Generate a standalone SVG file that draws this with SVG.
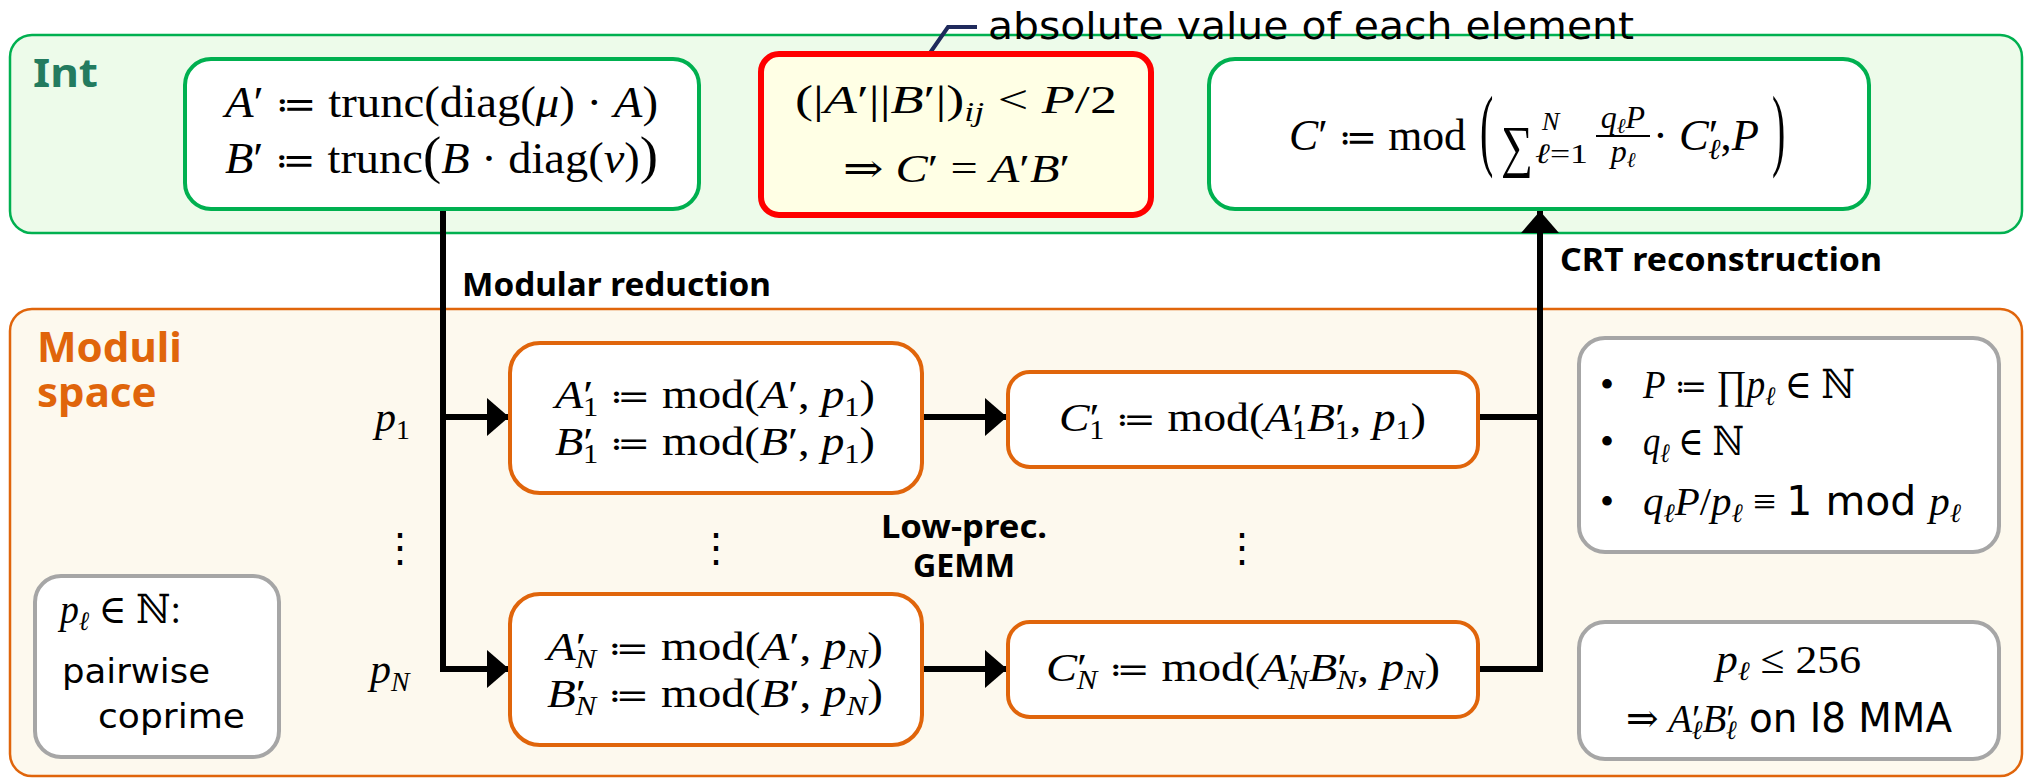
<svg xmlns="http://www.w3.org/2000/svg" width="2028" height="778" viewBox="0 0 2028 778">
<defs>
<style>
.m{font-family:"Liberation Serif","DejaVu Serif",serif;fill:#000}
.i{font-style:italic}
.eq{font-size:0.85em}
.sub{font-size:0.66em}
.sans{font-family:"DejaVu Sans","Liberation Sans",sans-serif;fill:#000}
.bold{font-family:"Noto Sans","DejaVu Sans",sans-serif;font-weight:bold;fill:#000}
.panelInt{fill:#edfbea;stroke:#00b050;stroke-width:2.5}
.panelMod{fill:#fdf9ee;stroke:#e0650b;stroke-width:2.5}
.gbox{fill:#fff;stroke:#00b050;stroke-width:4}
.obox{fill:#fff;stroke:#e0650b;stroke-width:4}
.graybox{fill:#fff;stroke:#a6a6a6;stroke-width:4}
.conn{fill:none;stroke:#000;stroke-width:6;stroke-linejoin:miter}
</style>
<marker id="ah" markerUnits="userSpaceOnUse" markerWidth="24" markerHeight="40" refX="22" refY="20" orient="auto">
<path d="M0,1 L22,20 L0,39 z" fill="#000"/>
</marker>
</defs>

<g id="int-panel">
<rect class="panelInt" x="10" y="35" width="2012" height="198" rx="22"/>
<text class="bold" x="33" y="87" font-size="40" textLength="65" lengthAdjust="spacingAndGlyphs" style="fill:#237b5f">Int</text>
</g>

<g id="moduli-panel">
<rect class="panelMod" x="10" y="309" width="2012" height="467" rx="22"/>
<text class="bold" x="37" y="362" font-size="42" style="fill:#e0650b">Moduli</text>
<text class="bold" x="37" y="407" font-size="42" style="fill:#e0650b">space</text>
</g>

<g id="connectors">
<path class="conn" d="M443 209 V669 H509" marker-end="url(#ah)"/>
<path class="conn" d="M443 417 H509" marker-end="url(#ah)"/>
<path class="conn" d="M922 417 H1007" marker-end="url(#ah)"/>
<path class="conn" d="M922 669 H1007" marker-end="url(#ah)"/>
<path class="conn" d="M1478 417 H1540"/>
<path class="conn" d="M1478 669 H1540 V211" marker-end="url(#ah)"/>
<path d="M916 73 L948 27 L977 27" fill="none" stroke="#1f2a5c" stroke-width="4"/>
</g>

<g id="label-abs">
<text class="sans" x="988" y="39" font-size="38" textLength="646" lengthAdjust="spacingAndGlyphs">absolute value of each element</text>
</g>

<g id="node-scale">
<rect class="gbox" x="185" y="59" width="514" height="150" rx="26"/>
<text class="m" x="225" y="117" font-size="44" textLength="433" lengthAdjust="spacingAndGlyphs"><tspan class="i">A</tspan>′ <tspan class="eq">≔</tspan> trunc(diag(<tspan class="i">μ</tspan>) · <tspan class="i">A</tspan>)</text>
<text class="m" x="225" y="173" font-size="44" textLength="433" lengthAdjust="spacingAndGlyphs"><tspan class="i">B</tspan>′ <tspan class="eq">≔</tspan> trunc<tspan font-size="52">(</tspan><tspan class="i">B</tspan> · diag(<tspan class="i">ν</tspan>)<tspan font-size="52">)</tspan></text>
</g>

<g id="node-cond">
<rect x="761" y="54" width="390" height="161" rx="18" fill="#ffffe5" stroke="#ff0000" stroke-width="6"/>
<text class="m" x="795" y="113" font-size="40" textLength="322" lengthAdjust="spacingAndGlyphs">(|<tspan class="i">A</tspan>′||<tspan class="i">B</tspan>′|)<tspan class="i sub" dy="8">ij</tspan><tspan dy="-8"> &lt; </tspan><tspan class="i">P</tspan>/2</text>
<text class="m" x="843" y="182" font-size="40" textLength="227" lengthAdjust="spacingAndGlyphs">⇒ <tspan class="i">C</tspan>′ = <tspan class="i">A</tspan>′<tspan class="i">B</tspan>′</text>
</g>

<g id="node-crt">
<rect class="gbox" x="1209" y="59" width="660" height="150" rx="26"/>
<text class="m" x="1289" y="150" font-size="44" textLength="177" lengthAdjust="spacingAndGlyphs"><tspan class="i">C</tspan>′ <tspan class="eq">≔</tspan> mod</text>
<text class="m" transform="translate(1480,159) scale(1,2.25)" font-size="40">(</text>
<text class="m" x="1501" y="166" font-size="58" textLength="32" lengthAdjust="spacingAndGlyphs">∑</text>
<text class="m i" x="1542" y="130" font-size="26">N</text>
<text class="m" x="1535" y="163" font-size="28" textLength="53" lengthAdjust="spacingAndGlyphs"><tspan class="i">ℓ</tspan>=1</text>
<text class="m" x="1623" y="128" text-anchor="middle" font-size="32"><tspan class="i">q</tspan><tspan class="i" font-size="21" dy="5">ℓ</tspan><tspan class="i" dy="-5">P</tspan></text>
<line x1="1596" y1="136" x2="1650" y2="136" stroke="#000" stroke-width="2"/>
<text class="m" x="1623" y="162" text-anchor="middle" font-size="32"><tspan class="i">p</tspan><tspan class="i" font-size="21" dy="5">ℓ</tspan></text>
<text class="m" x="1653" y="150" font-size="44" textLength="106" lengthAdjust="spacingAndGlyphs">· <tspan class="i">C</tspan>′<tspan class="i sub" dx="-10" dy="9">ℓ</tspan><tspan dy="-9">,</tspan><tspan class="i">P</tspan></text>
<text class="m" transform="translate(1772,159) scale(1,2.25)" font-size="40">)</text>
</g>

<g id="label-modred">
<text class="bold" x="462" y="296" font-size="33" textLength="309" lengthAdjust="spacingAndGlyphs">Modular reduction</text>
</g>
<g id="label-crt">
<text class="bold" x="1560" y="271" font-size="33" textLength="322" lengthAdjust="spacingAndGlyphs">CRT reconstruction</text>
</g>

<g id="label-p1">
<text class="m" x="375" y="431" font-size="42"><tspan class="i">p</tspan><tspan class="sub" dy="8">1</tspan></text>
</g>
<g id="label-vdots-left">
<text class="m" x="400" y="561" font-size="40" text-anchor="middle">⋮</text>
</g>
<g id="label-pN">
<text class="m" x="370" y="683" font-size="42"><tspan class="i">p</tspan><tspan class="i sub" dy="8">N</tspan></text>
</g>

<g id="node-mod1">
<rect class="obox" x="510" y="343" width="412" height="150" rx="30"/>
<text class="m" x="555" y="408" font-size="40" textLength="320" lengthAdjust="spacingAndGlyphs"><tspan class="i">A</tspan>′<tspan class="sub" dx="-9" dy="8">1</tspan><tspan dy="-8"> </tspan><tspan class="eq">≔</tspan> mod(<tspan class="i">A</tspan>′, <tspan class="i">p</tspan><tspan class="sub" dy="8">1</tspan><tspan dy="-8">)</tspan></text>
<text class="m" x="555" y="455" font-size="40" textLength="320" lengthAdjust="spacingAndGlyphs"><tspan class="i">B</tspan>′<tspan class="sub" dx="-9" dy="8">1</tspan><tspan dy="-8"> </tspan><tspan class="eq">≔</tspan> mod(<tspan class="i">B</tspan>′, <tspan class="i">p</tspan><tspan class="sub" dy="8">1</tspan><tspan dy="-8">)</tspan></text>
</g>

<g id="node-modN">
<rect class="obox" x="510" y="594" width="412" height="151" rx="30"/>
<text class="m" x="547" y="660" font-size="40" textLength="336" lengthAdjust="spacingAndGlyphs"><tspan class="i">A</tspan>′<tspan class="i sub" dx="-9" dy="8">N</tspan><tspan dy="-8"> </tspan><tspan class="eq">≔</tspan> mod(<tspan class="i">A</tspan>′, <tspan class="i">p</tspan><tspan class="i sub" dy="8">N</tspan><tspan dy="-8">)</tspan></text>
<text class="m" x="547" y="707" font-size="40" textLength="336" lengthAdjust="spacingAndGlyphs"><tspan class="i">B</tspan>′<tspan class="i sub" dx="-9" dy="8">N</tspan><tspan dy="-8"> </tspan><tspan class="eq">≔</tspan> mod(<tspan class="i">B</tspan>′, <tspan class="i">p</tspan><tspan class="i sub" dy="8">N</tspan><tspan dy="-8">)</tspan></text>
</g>

<g id="label-vdots-mid">
<text class="m" x="716" y="561" font-size="40" text-anchor="middle">⋮</text>
</g>
<g id="label-gemm">
<text class="bold" x="881" y="538" font-size="33" textLength="166" lengthAdjust="spacingAndGlyphs">Low-prec.</text>
<text class="bold" x="913" y="577" font-size="33" textLength="102" lengthAdjust="spacingAndGlyphs">GEMM</text>
</g>
<g id="label-vdots-right">
<text class="m" x="1242" y="561" font-size="40" text-anchor="middle">⋮</text>
</g>

<g id="node-c1">
<rect class="obox" x="1008" y="372" width="470" height="95" rx="22"/>
<text class="m" x="1059" y="431" font-size="40" textLength="367" lengthAdjust="spacingAndGlyphs"><tspan class="i">C</tspan>′<tspan class="sub" dx="-9" dy="8">1</tspan><tspan dy="-8"> </tspan><tspan class="eq">≔</tspan> mod(<tspan class="i">A</tspan>′<tspan class="sub" dx="-9" dy="8">1</tspan><tspan class="i" dy="-8">B</tspan>′<tspan class="sub" dx="-9" dy="8">1</tspan><tspan dy="-8">, </tspan><tspan class="i">p</tspan><tspan class="sub" dy="8">1</tspan><tspan dy="-8">)</tspan></text>
</g>

<g id="node-cN">
<rect class="obox" x="1008" y="622" width="470" height="95" rx="22"/>
<text class="m" x="1046" y="681" font-size="40" textLength="394" lengthAdjust="spacingAndGlyphs"><tspan class="i">C</tspan>′<tspan class="i sub" dx="-9" dy="8">N</tspan><tspan dy="-8"> </tspan><tspan class="eq">≔</tspan> mod(<tspan class="i">A</tspan>′<tspan class="i sub" dx="-9" dy="8">N</tspan><tspan class="i" dy="-8">B</tspan>′<tspan class="i sub" dx="-9" dy="8">N</tspan><tspan dy="-8">, </tspan><tspan class="i">p</tspan><tspan class="i sub" dy="8">N</tspan><tspan dy="-8">)</tspan></text>
</g>

<g id="node-defs">
<rect class="graybox" x="1579" y="338" width="420" height="214" rx="26"/>
<text class="m" x="1600" y="398" font-size="40">•</text>
<text class="m" x="1643" y="398" font-size="40" textLength="212" lengthAdjust="spacingAndGlyphs"><tspan class="i">P</tspan> <tspan class="eq">≔</tspan> ∏<tspan class="i">p</tspan><tspan class="i sub" dy="7">ℓ</tspan><tspan dy="-7"> ∈ ℕ</tspan></text>
<text class="m" x="1600" y="455" font-size="40">•</text>
<text class="m" x="1643" y="455" font-size="40" textLength="101" lengthAdjust="spacingAndGlyphs"><tspan class="i">q</tspan><tspan class="i sub" dy="7">ℓ</tspan><tspan dy="-7"> ∈ ℕ</tspan></text>
<text class="m" x="1600" y="515" font-size="40">•</text>
<text class="m" x="1643" y="515" font-size="40" textLength="318" lengthAdjust="spacingAndGlyphs"><tspan class="i">q</tspan><tspan class="i sub" dy="7">ℓ</tspan><tspan class="i" dy="-7">P</tspan>/<tspan class="i">p</tspan><tspan class="i sub" dy="7">ℓ</tspan><tspan dy="-7"> ≡ </tspan><tspan class="sans">1 mod </tspan><tspan class="i">p</tspan><tspan class="i sub" dy="7">ℓ</tspan></text>
</g>

<g id="node-int8">
<rect class="graybox" x="1579" y="622" width="420" height="137" rx="26"/>
<text class="m" x="1716" y="673" font-size="40" textLength="145" lengthAdjust="spacingAndGlyphs"><tspan class="i">p</tspan><tspan class="i sub" dy="7">ℓ</tspan><tspan dy="-7"> ≤ 256</tspan></text>
<text class="m" x="1626" y="732" font-size="40" textLength="326" lengthAdjust="spacingAndGlyphs">⇒ <tspan class="i">A</tspan>′<tspan class="i sub" dx="-9" dy="7">ℓ</tspan><tspan class="i" dy="-7">B</tspan>′<tspan class="i sub" dx="-9" dy="7">ℓ</tspan><tspan class="sans" dy="-7"> on I8 MMA</tspan></text>
</g>

<g id="node-coprime">
<rect class="graybox" x="35" y="576" width="244" height="181" rx="26"/>
<text class="m" x="60" y="623" font-size="40" textLength="121" lengthAdjust="spacingAndGlyphs"><tspan class="i">p</tspan><tspan class="i sub" dy="7">ℓ</tspan><tspan dy="-7"> ∈ ℕ:</tspan></text>
<text class="sans" x="62" y="683" font-size="34" textLength="148" lengthAdjust="spacingAndGlyphs">pairwise</text>
<text class="sans" x="98" y="728" font-size="34" textLength="147" lengthAdjust="spacingAndGlyphs">coprime</text>
</g>
</svg>
